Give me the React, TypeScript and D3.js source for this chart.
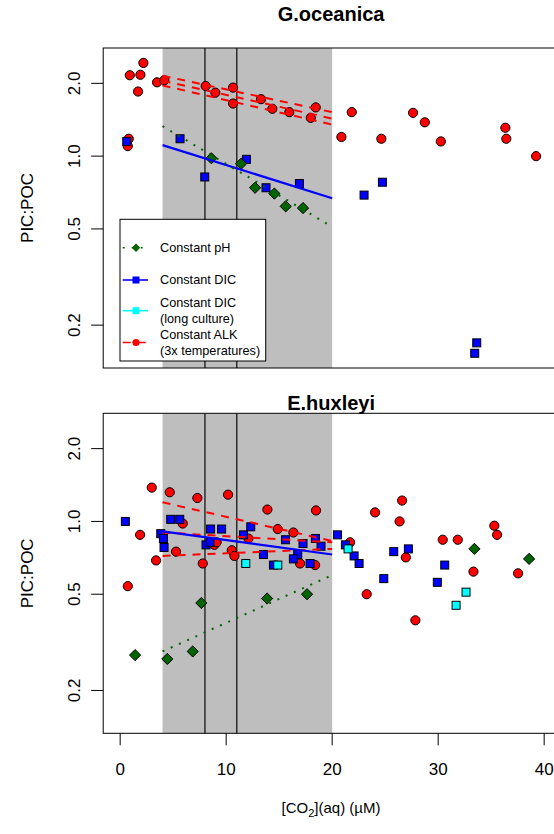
import * as d3 from "d3";
import { useEffect, useRef } from "react";

type Pt = [number, number];

// G.oceanica  [CO2 (uM), PIC:POC]
const goAlk: Pt[] = [
  [2.19, 2.43], [0.91, 2.16], [1.91, 2.17], [1.69, 1.85], [3.48, 2.02], [4.17, 2.06],
  [0.81, 1.18], [0.72, 1.1], [8.07, 1.95], [8.98, 1.83], [10.65, 1.92], [10.65, 1.65],
  [13.29, 1.72], [14.36, 1.57], [15.96, 1.52], [18.45, 1.59], [17.98, 1.44], [20.87, 1.2],
  [21.85, 1.52], [27.63, 1.51], [28.74, 1.38], [24.64, 1.18], [30.25, 1.15], [36.34, 1.31],
  [36.43, 1.18], [39.24, 1.0],
];
const goDic: Pt[] = [
  [0.62, 1.15], [5.65, 1.18], [7.98, 0.82], [11.91, 0.97], [13.76, 0.74], [16.91, 0.77],
  [24.74, 0.78], [23.01, 0.69], [33.64, 0.169], [33.45, 0.153],
];
const goPh: Pt[] = [
  [8.6, 0.98], [11.41, 0.93], [12.73, 0.74], [14.55, 0.7], [15.62, 0.62], [17.25, 0.61],
];

// E.huxleyi
const ehAlk: Pt[] = [
  [2.98, 1.38], [4.68, 1.32], [7.28, 1.25], [10.18, 1.29], [13.89, 1.12], [18.48, 1.11],
  [5.9, 0.98], [1.88, 0.88], [14.87, 0.93], [16.34, 0.9], [12.1, 0.85], [8.89, 0.8],
  [9.1, 0.82], [10.53, 0.76], [10.78, 0.72], [5.27, 0.75], [3.39, 0.69], [7.79, 0.67],
  [16.97, 0.67], [18.39, 0.66], [26.6, 1.22], [24.05, 1.09], [26.36, 1.0], [35.3, 0.96],
  [35.56, 0.88], [30.43, 0.84], [31.85, 0.84], [21.69, 0.82], [26.95, 0.71], [33.33, 0.62],
  [37.54, 0.61], [23.26, 0.5], [27.85, 0.39], [0.72, 0.54],
];
const ehDic: Pt[] = [
  [0.49, 1.0], [4.77, 1.02], [5.62, 1.02], [3.83, 0.89], [4.08, 0.85], [4.14, 0.78],
  [8.53, 0.93], [9.57, 0.93], [12.32, 0.95], [11.63, 0.88], [8.1, 0.8], [8.48, 0.82],
  [15.6, 0.84], [17.25, 0.81], [18.42, 0.85], [18.95, 0.79], [13.52, 0.73], [16.75, 0.73],
  [16.34, 0.7], [14.46, 0.66], [17.92, 0.67], [20.5, 0.88], [21.25, 0.8], [22.07, 0.72],
  [22.54, 0.67], [25.81, 0.75], [27.19, 0.77], [30.62, 0.66], [24.87, 0.58], [29.92, 0.56],
];
const ehDicLong: Pt[] = [
  [11.85, 0.67], [14.87, 0.66], [21.5, 0.77], [32.63, 0.51], [31.69, 0.45],
];
const ehPh: Pt[] = [
  [1.41, 0.28], [4.45, 0.27], [6.85, 0.29], [7.66, 0.46], [13.86, 0.48], [17.63, 0.5],
  [33.42, 0.77], [38.58, 0.7],
];

// fitted lines, PIC:POC at the two ends of fitX
const fitX = [4, 20];
const goFitPh = [1.33, 0.51];
const goFitDic = [1.11, 0.67];
const goFitAlk = [[2.15, 1.52], [2.05, 1.43], [1.96, 1.35]];
const ehFitPh = [0.29, 0.6];
const ehFitDic = [0.91, 0.73];
const ehFitAlk = [[1.2, 0.83], [0.9, 0.82], [0.72, 0.77]];

const shadeRange = [4, 20];
const refLines = [8, 11];
const xTicks = [0, 10, 20, 30, 40];
const yTicks = [0.2, 0.5, 1, 2];

const legendItems = [
  { label: ["Constant pH"], color: "#006400", dash: "2 7", shape: "diamond" },
  { label: ["Constant DIC"], color: "#0000ff", dash: null, shape: "square" },
  { label: ["Constant DIC", "(long culture)"], color: "#00ffff", dash: null, shape: "square" },
  { label: ["Constant ALK", "(3x temperatures)"], color: "#ff0000", dash: "8 7", shape: "circle" },
];

const FONT = "'Liberation Sans', Arial, sans-serif";

const App = () => {
  const svgRef = useRef<SVGSVGElement>(null);

  useEffect(() => {
    const svg = d3.select(svgRef.current);
    svg.selectAll("*").remove();

    const left = 103.2;
    const right = 559;
    const x = d3.scaleLinear().domain([-1.6, 41.4]).range([left, right]);

    const diamond = (s: number) => `M0,${-s}L${s},0L0,${s}L${-s},0Z`;

    const drawPanel = (top: number, title: string, titleY: number, series: any) => {
      const bottom = top + 320;
      const y = d3.scaleLog().domain([0.133, 2.8]).range([bottom, top]);
      const g = svg.append("g");

      const clipId = "clip" + Math.round(top);
      g.append("clipPath").attr("id", clipId)
        .append("rect").attr("x", left).attr("y", top).attr("width", right - left).attr("height", bottom - top);

      const plot = g.append("g").attr("clip-path", `url(#${clipId})`);

      // shaded band + reference lines
      plot.append("rect")
        .attr("x", x(shadeRange[0])).attr("y", top)
        .attr("width", x(shadeRange[1]) - x(shadeRange[0])).attr("height", bottom - top)
        .attr("fill", "#bebebe");
      refLines.forEach((v) => {
        plot.append("line")
          .attr("x1", x(v)).attr("x2", x(v)).attr("y1", top).attr("y2", bottom)
          .attr("stroke", "#222").attr("stroke-width", 1.4);
      });

      const line = d3.line<number>().x((d, i) => x(fitX[i])).y((d) => y(d));

      // points
      plot.selectAll(null).data(series.alk as Pt[]).enter().append("circle")
        .attr("cx", (d) => x(d[0])).attr("cy", (d) => y(d[1])).attr("r", 4.6)
        .attr("fill", "#ff0000").attr("stroke", "#000").attr("stroke-width", 1);
      plot.selectAll(null).data(series.dic as Pt[]).enter().append("rect")
        .attr("x", (d) => x(d[0]) - 4).attr("y", (d) => y(d[1]) - 4)
        .attr("width", 8).attr("height", 8)
        .attr("fill", "#0000ff").attr("stroke", "#000").attr("stroke-width", 1);
      plot.selectAll(null).data((series.dicLong || []) as Pt[]).enter().append("rect")
        .attr("x", (d) => x(d[0]) - 4).attr("y", (d) => y(d[1]) - 4)
        .attr("width", 8).attr("height", 8)
        .attr("fill", "#00ffff").attr("stroke", "#000").attr("stroke-width", 1);
      plot.selectAll(null).data(series.ph as Pt[]).enter().append("path")
        .attr("transform", (d) => `translate(${x(d[0])},${y(d[1])})`)
        .attr("d", diamond(5.6))
        .attr("fill", "#006400").attr("stroke", "#000").attr("stroke-width", 1);

      // fitted lines
      (series.fitAlk as number[][]).forEach((f) => {
        plot.append("path").attr("d", line(f)).attr("fill", "none")
          .attr("stroke", "#ff0000").attr("stroke-width", 2).attr("stroke-dasharray", "8 7");
      });
      plot.append("path").attr("d", line(series.fitDic)).attr("fill", "none")
        .attr("stroke", "#0000ff").attr("stroke-width", 2.2);
      plot.append("path").attr("d", line(series.fitPh)).attr("fill", "none")
        .attr("stroke", "#006400").attr("stroke-width", 2).attr("stroke-dasharray", "2 7");

      // box
      g.append("rect").attr("x", left).attr("y", top)
        .attr("width", right - left).attr("height", bottom - top)
        .attr("fill", "none").attr("stroke", "#000").attr("stroke-width", 1);

      // y axis
      yTicks.forEach((t) => {
        g.append("line").attr("x1", left - 12).attr("x2", left)
          .attr("y1", y(t)).attr("y2", y(t)).attr("stroke", "#000");
        g.append("text")
          .attr("transform", `translate(80,${y(t)}) rotate(-90)`)
          .attr("text-anchor", "middle").attr("font-size", 17)
          .attr("font-family", FONT).text(d3.format(".1f")(t));
      });
      g.append("text")
        .attr("transform", `translate(33,${(top + bottom) / 2}) rotate(-90)`)
        .attr("text-anchor", "middle").attr("font-size", 17)
        .attr("font-family", FONT).text("PIC:POC");

      // title
      g.append("text").attr("x", (left + right) / 2).attr("y", titleY)
        .attr("text-anchor", "middle").attr("font-size", 20).attr("font-weight", "bold")
        .attr("font-family", FONT).text(title);

      return { g, bottom };
    };

    drawPanel(48, "G.oceanica", 21, {
      alk: goAlk, dic: goDic, ph: goPh,
      fitAlk: goFitAlk, fitDic: goFitDic, fitPh: goFitPh,
    });
    const { g: gb, bottom: bb } = drawPanel(413.3, "E.huxleyi", 410, {
      alk: ehAlk, dic: ehDic, dicLong: ehDicLong, ph: ehPh,
      fitAlk: ehFitAlk, fitDic: ehFitDic, fitPh: ehFitPh,
    });

    // x axis (bottom panel)
    xTicks.forEach((t) => {
      gb.append("line").attr("x1", x(t)).attr("x2", x(t))
        .attr("y1", bb).attr("y2", bb + 12).attr("stroke", "#000");
      gb.append("text").attr("x", x(t)).attr("y", bb + 42)
        .attr("text-anchor", "middle").attr("font-size", 17)
        .attr("font-family", FONT).text(t);
    });
    const xt = gb.append("text").attr("x", 331).attr("y", 813)
      .attr("text-anchor", "middle").attr("font-size", 15).attr("font-family", FONT);
    xt.append("tspan").text("[CO");
    xt.append("tspan").attr("font-size", 11).attr("dy", 4).text("2");
    xt.append("tspan").attr("dy", -4).text("](aq) (\u00b5M)");

    // legend (top panel)
    const lg = svg.append("g");
    lg.append("rect").attr("x", 120).attr("y", 219.3).attr("width", 145.7).attr("height", 141.7)
      .attr("fill", "#fff").attr("stroke", "#000").attr("stroke-width", 1);
    const rowY = [247.7, 280, 310.7, 342.5];
    legendItems.forEach((it, i) => {
      const cy = rowY[i];
      lg.append("line").attr("x1", 122.7).attr("x2", 148).attr("y1", cy).attr("y2", cy)
        .attr("stroke", it.color).attr("stroke-width", it.shape === "diamond" ? 1.5 : 1.6)
        .attr("stroke-dasharray", it.dash);
      if (it.shape === "diamond") {
        lg.append("path").attr("transform", `translate(136,${cy})`).attr("d", diamond(4.2)).attr("fill", it.color);
      } else if (it.shape === "square") {
        lg.append("rect").attr("x", 132.5).attr("y", cy - 3.5).attr("width", 7).attr("height", 7).attr("fill", it.color);
      } else {
        lg.append("circle").attr("cx", 136).attr("cy", cy).attr("r", 3.6).attr("fill", it.color);
      }
      const ty = it.label.length === 1 ? [cy] : [cy - 8, cy + 8];
      it.label.forEach((s, j) => {
        lg.append("text").attr("x", 160).attr("y", ty[j]).attr("dy", "0.35em")
          .attr("font-size", 12.7).attr("font-family", FONT).text(s);
      });
    });
  }, []);

  return (
    <svg ref={svgRef} width={554} height={834}
      style={{ position: "absolute", left: 0, top: 0, background: "#fff" }} />
  );
};

export default App;
